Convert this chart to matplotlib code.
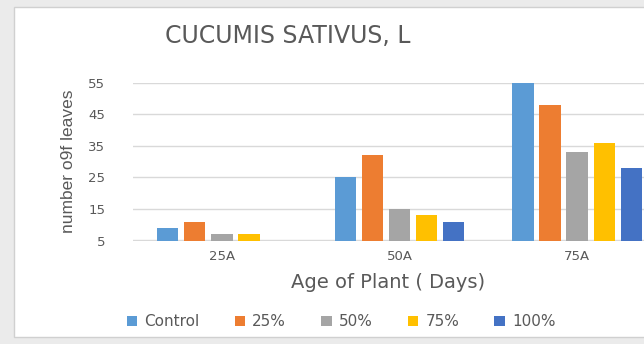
import matplotlib
matplotlib.use("Agg")
import matplotlib.pyplot as plt
import numpy as np
from matplotlib.patches import Rectangle

categories = ["25A", "50A", "75A"]
series_names = ["Control", "25%", "50%", "75%", "100%"]
control = [9, 25, 55]
p25 = [11, 32, 48]
p50 = [7, 15, 33]
p75 = [7, 13, 36]
p100 = [5, 11, 28]
yticks = [5, 15, 25, 35, 45, 55]

series = [control, p25, p50, p75, p100]
colors = ["#5B9BD5", "#ED7D31", "#A5A5A5", "#FFC000", "#4472C4"]

fig = plt.figure(figsize=(6.44, 3.44), dpi=100)
fig.patch.set_facecolor("#ebebeb")
fig.patches.append(Rectangle((14/644, 1-337/344), 640/644, 330/344,
                             transform=fig.transFigure, facecolor="white",
                             edgecolor="#d0d0d0", lw=1.0, zorder=-5))

ax = fig.add_axes([133/644, 103.5/344, 533/644, 157.8/344])
ax.set_facecolor("none")
x = np.arange(len(categories))
width = 0.121
step = 0.1525
for i, (vals, c, name) in enumerate(zip(series, colors, series_names)):
    ax.bar(x + (i - 2) * step, np.array(vals) - 5, bottom=5, width=width,
           color=c, label=name, zorder=3)

ax.set_xlim(-0.5, 2.5)
ax.set_ylim(5, 55)
ax.set_yticks(yticks)
ax.set_xticks(x)
ax.set_xticklabels(categories)
ax.yaxis.grid(True, color="#d9d9d9", lw=1.0, zorder=0)
ax.set_axisbelow(True)
for s in ax.spines.values():
    s.set_visible(False)
ax.tick_params(axis="both", length=0, colors="#595959", labelsize=9.5)
ax.tick_params(axis="y", pad=20)
ax.tick_params(axis="x", pad=7)

ax.set_ylabel("number o9f leaves", family=["Liberation Sans", "DejaVu Sans"],
              fontsize=12.5, color="#595959", labelpad=9)

fig.text(0.447, 1 - 36/344, "CUCUMIS SATIVUS, L", ha="center", va="center",
         fontsize=17, color="#595959")
fig.text(388/644, 1 - 283/344, "Age of Plant ( Days)", ha="center", va="center",
         fontsize=14, color="#595959")

leg = fig.legend(loc="center", bbox_to_anchor=(341/644, 1 - 322/344), ncol=5,
                 frameon=False, fontsize=11, handlelength=0.7, handleheight=0.55,
                 handletextpad=0.45, columnspacing=2.3, labelcolor="#595959")

fig.savefig("out.png", dpi=100, facecolor=fig.get_facecolor())
